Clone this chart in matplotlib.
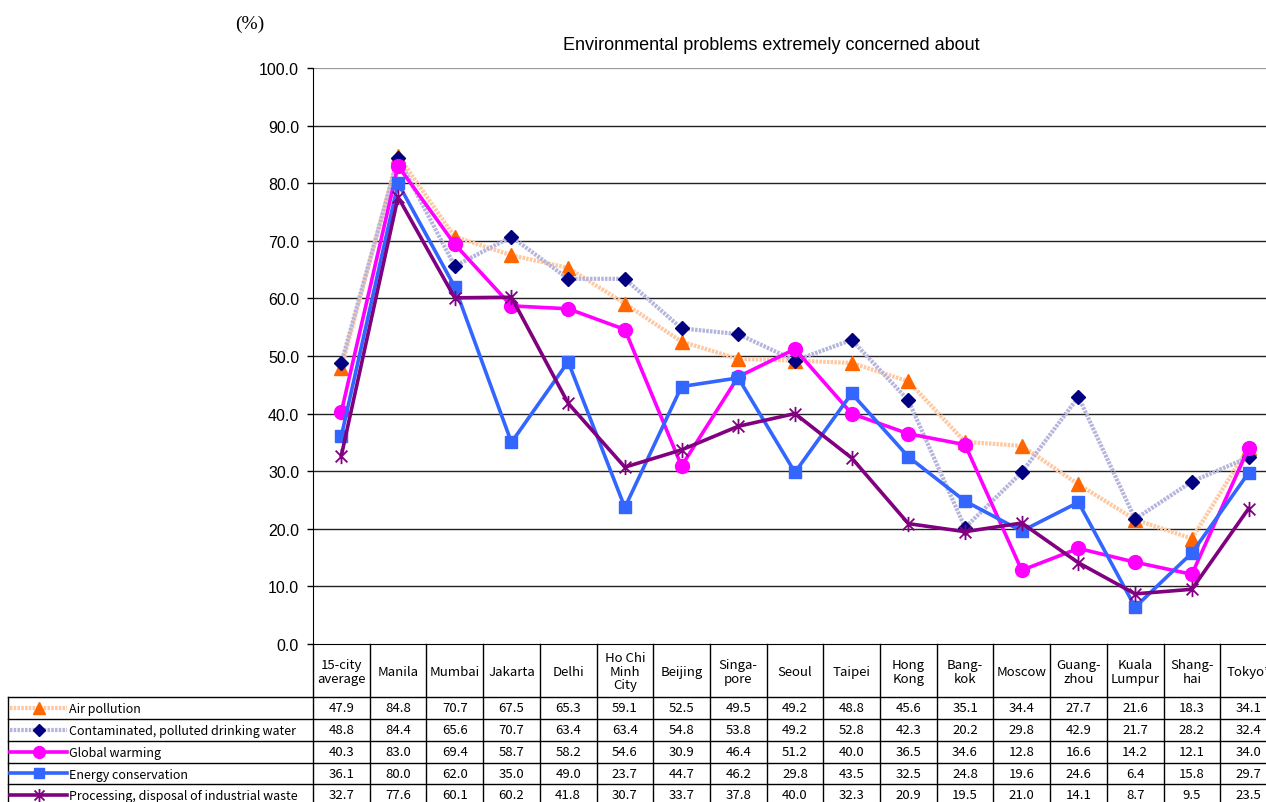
import matplotlib
matplotlib.use("Agg")
import matplotlib.pyplot as plt
from matplotlib.path import Path
from matplotlib.lines import Line2D

W, H = 1266, 803

cities = ["15-city\naverage", "Manila", "Mumbai", "Jakarta", "Delhi", "Ho Chi\nMinh\nCity",
          "Beijing", "Singa-\npore", "Seoul", "Taipei", "Hong\nKong", "Bang-\nkok",
          "Moscow", "Guang-\nzhou", "Kuala\nLumpur", "Shang-\nhai", "Tokyo*"]

air_pollution = [47.9, 84.8, 70.7, 67.5, 65.3, 59.1, 52.5, 49.5, 49.2, 48.8, 45.6, 35.1,
                 34.4, 27.7, 21.6, 18.3, 34.1]
drinking_water = [48.8, 84.4, 65.6, 70.7, 63.4, 63.4, 54.8, 53.8, 49.2, 52.8, 42.3, 20.2,
                  29.8, 42.9, 21.7, 28.2, 32.4]
global_warming = [40.3, 83.0, 69.4, 58.7, 58.2, 54.6, 30.9, 46.4, 51.2, 40.0, 36.5, 34.6,
                  12.8, 16.6, 14.2, 12.1, 34.0]
energy_conservation = [36.1, 80.0, 62.0, 35.0, 49.0, 23.7, 44.7, 46.2, 29.8, 43.5, 32.5, 24.8,
                       19.6, 24.6, 6.4, 15.8, 29.7]
industrial_waste = [32.7, 77.6, 60.1, 60.2, 41.8, 30.7, 33.7, 37.8, 40.0, 32.3, 20.9, 19.5,
                    21.0, 14.1, 8.7, 9.5, 23.5]

series_names = ["Air pollution", "Contaminated, polluted drinking water", "Global warming",
                "Energy conservation", "Processing, disposal of industrial waste"]
series_values = [air_pollution, drinking_water, global_warming, energy_conservation,
                 industrial_waste]

yticks = [0, 10, 20, 30, 40, 50, 60, 70, 80, 90, 100]

# Excel-like asterisk marker: an X plus a vertical stroke
star = Path([(-1, -1), (1, 1), (-1, 1), (1, -1), (0, -1.3), (0, 1.3)],
            [Path.MOVETO, Path.LINETO, Path.MOVETO, Path.LINETO, Path.MOVETO, Path.LINETO])

styles = [
    dict(color="#FFC8A0", lw=3.0, ls=(0, (0.6, 0.3)), marker="^", mfc="#FF6600", mec="#FF6600", ms=10),
    dict(color="#B4B4DC", lw=3.0, ls=(0, (0.6, 0.3)), marker="D", mfc="#000080", mec="#000080", ms=7.5),
    dict(color="#FF00FF", lw=2.6, ls="-", marker="o", mfc="#FF00FF", mec="#FF00FF", ms=10),
    dict(color="#3366FF", lw=2.6, ls="-", marker="s", mfc="#3366FF", mec="#3366FF", ms=8.5),
    dict(color="#800080", lw=2.6, ls="-", marker=star, mfc="none", mec="#800080", ms=11, mew=1.3),
]

fig = plt.figure(figsize=(W / 100, H / 100), dpi=100)

def fx(px):
    return px / W

def fy(py):
    return 1 - py / H

col_w = 56.7
ax_left, ax_top, ax_bottom = 313, 69, 645
ax_right = ax_left + col_w * len(cities)
ax = fig.add_axes([fx(ax_left), fy(ax_bottom), fx(ax_right) - fx(ax_left), fy(ax_top) - fy(ax_bottom)])

x = list(range(len(cities)))
for vals, st in zip(series_values, styles):
    ax.plot(x, vals, color=st["color"], lw=st["lw"], ls=st["ls"], marker=st["marker"],
            mfc=st["mfc"], mec=st["mec"], ms=st["ms"], mew=st.get("mew", 1), zorder=3,
            clip_on=False)

ax.set_xlim(-0.5, len(cities) - 0.5)
ax.set_ylim(0, 100)
ax.set_yticks(yticks)
ax.set_yticklabels([f"{v:.1f}" for v in yticks], fontsize=11.5, family="Liberation Sans")
ax.set_xticks([])
for v in yticks[1:-1]:
    ax.axhline(v, color="#222222", lw=1.0, zorder=1)
ax.axhline(100, color="#999999", lw=1.6, zorder=1)
for s in ["top", "right"]:
    ax.spines[s].set_visible(False)
ax.spines["left"].set_color("black")
ax.spines["bottom"].set_color("black")
ax.tick_params(axis="y", direction="out", length=4, width=1, pad=6)

fig.text(fx(771), fy(45), "Environmental problems extremely concerned about",
         ha="center", va="center", fontsize=13, family="Liberation Sans")
fig.text(fx(250), fy(24), "(%)", ha="center", va="center", fontsize=14, family="Liberation Serif")

# Data table below the chart
row_edges = [698, 720, 742, 763.5, 785, 807]
leg_left = 8
num_font = ["Noto Sans CJK JP", "DejaVu Sans"]

def col_edge(i):
    # pixel x of the boundary left of category i, from the axes' data transform
    disp = ax.transData.transform((i - 0.5, 0))
    return disp[0]

def hline(y, x0, x1):
    fig.add_artist(Line2D([fx(x0), fx(x1)], [fy(y), fy(y)], color="black", lw=1.0,
                          transform=fig.transFigure))

def vline(xp, y0, y1):
    fig.add_artist(Line2D([fx(xp), fx(xp)], [fy(y0), fy(y1)], color="black", lw=1.0,
                          transform=fig.transFigure))

fig.canvas.draw()
edges = [col_edge(i) for i in range(len(cities) + 1)]
centers = [(edges[i] + edges[i + 1]) / 2 for i in range(len(cities))]

for xp in edges:
    vline(xp, ax_bottom, H + 5)
vline(leg_left, row_edges[0], H + 5)
for y in row_edges[:-1]:
    hline(y, leg_left, W + 5)

for c, label in zip(centers, cities):
    fig.text(fx(c), fy((ax_bottom + row_edges[0]) / 2 + 1), label, ha="center", va="center",
             fontsize=9.5, family=num_font, linespacing=1.05)

for r, (name, vals, st) in enumerate(zip(series_names, series_values, styles)):
    yc = (row_edges[r] + row_edges[r + 1]) / 2
    fig.add_artist(Line2D([fx(10), fx(67)], [fy(yc), fy(yc)], color=st["color"], lw=st["lw"],
                          ls=st["ls"], transform=fig.transFigure))
    fig.add_artist(Line2D([fx(38.5)], [fy(yc)], marker=st["marker"], mfc=st["mfc"], mec=st["mec"],
                          ms=st["ms"] * 0.85, mew=st.get("mew", 1), ls="none",
                          transform=fig.transFigure))
    fig.text(fx(69), fy(yc + 1), name, ha="left", va="center", fontsize=9.0, family=num_font)
    for c, v in zip(centers, vals):
        fig.text(fx(c), fy(yc), f"{v:.1f}", ha="center", va="center", fontsize=9.5, family=num_font)

fig.savefig("out.png", dpi=100)
